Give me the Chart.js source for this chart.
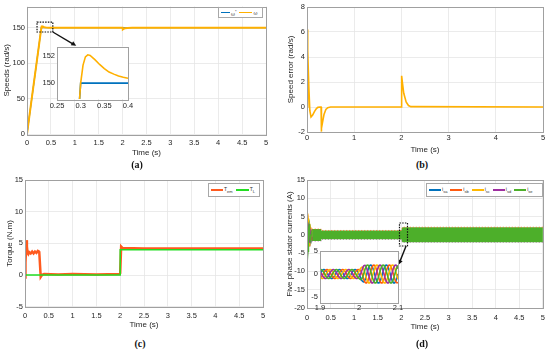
<!DOCTYPE html>
<html>
<head>
<meta charset="utf-8">
<script src="https://cdn.jsdelivr.net/npm/chart.js@4"></script>
<style>
  body { margin: 0; background: #fff; }
  #wrap { position: relative; width: 550px; height: 352px; overflow: hidden; background: #fff; font-family: "Liberation Sans", Arial, sans-serif; }
  #wrap canvas { position: absolute; }
  .cap { position: absolute; font: bold 10px "Liberation Serif", serif; color: #111; transform: translate(-50%, -50%); }
  .leg { position: absolute; background: #fff; border: 1px solid #a8a8a8; display: flex; align-items: center; font-size: 5px; color: #333; box-sizing: border-box; padding-left: 2px; }
  .leg .ln { display: inline-block; height: 1.5px; margin-right: 1px; }
  .leg .lt { margin-right: 3px; }
  .leg sub, .leg sup { font-size: 4px; }
</style>
</head>
<body>
<div id="wrap">
  <canvas id="ca" width="275" height="158" style="left:0;top:0"></canvas>
  <canvas id="caIn" width="100" height="72" style="left:38px;top:40px"></canvas>
  <canvas id="cb" width="275" height="155" style="left:275px;top:0"></canvas>
  <canvas id="cc" width="275" height="158" style="left:0;top:172px"></canvas>
  <canvas id="cd" width="275" height="160" style="left:275px;top:172px"></canvas>
  <canvas id="cdIn" width="108" height="72" style="left:300px;top:244px"></canvas>

  <div class="leg" style="left:218px;top:7px;width:45px;height:11px">
    <span class="ln" style="background:#0072BD;width:9px"></span><span class="lt">ω<sup>*</sup></span>
    <span class="ln" style="background:#FFB000;width:13px"></span><span class="lt">ω</span>
  </div>
  <div class="leg" style="left:208px;top:183px;width:52px;height:14px">
    <span class="ln" style="background:#FF5A1F;width:12px"></span><span class="lt">T<sub>em</sub></span>
    <span class="ln" style="background:#22DD22;width:13px"></span><span class="lt">T<sub>L</sub></span>
  </div>
  <div class="leg" style="left:426px;top:183px;width:117px;height:14px">
    <span class="ln" style="background:#0072BD;width:12px"></span><span class="lt">i<sub>sa</sub></span>
    <span class="ln" style="background:#FF5A10;width:12px"></span><span class="lt">i<sub>sb</sub></span>
    <span class="ln" style="background:#FFB800;width:12px"></span><span class="lt">i<sub>sc</sub></span>
    <span class="ln" style="background:#9E2FA0;width:12px"></span><span class="lt">i<sub>sd</sub></span>
    <span class="ln" style="background:#4DAF2A;width:12px"></span><span class="lt">i<sub>se</sub></span>
  </div>

  <div class="cap" style="left:137px;top:164px">(a)</div>
  <div class="cap" style="left:422px;top:164px">(b)</div>
  <div class="cap" style="left:140px;top:343px">(c)</div>
  <div class="cap" style="left:422px;top:343px">(d)</div>
</div>

<script>
// ---- (a) speeds ----
const speedRefT = [0, 0.3, 5];
const speedRef  = [0, 150, 150];
const speedT = [0, 0.1, 0.2, 0.3, 0.305, 0.31, 0.315, 0.32, 0.33, 0.34, 0.35, 0.36, 0.37, 0.38, 0.39, 0.4, 0.45, 0.5, 2.0, 2.005, 2.02, 2.05, 2.1, 2.2, 5];
const speed  = [0, 50.8, 100, 150, 151.3, 151.9, 152.05, 152.0, 151.7, 151.35, 151.05, 150.8, 150.65, 150.52, 150.43, 150.35, 150.12, 150.0, 150, 147.6, 148.3, 149.3, 149.8, 150, 150];
const speedXTicks = [0, 0.5, 1, 1.5, 2, 2.5, 3, 3.5, 4, 4.5, 5];
const speedYTicks = [0, 50, 100, 150];
const zoomAXTicks = [0.25, 0.3, 0.35, 0.4];
const zoomAYTicks = [150, 152];

// ---- (b) speed error ----
const errT = [0, 0.01, 0.02, 0.04, 0.06, 0.085, 0.12, 0.16, 0.2, 0.23, 0.28, 0.298, 0.302, 0.31, 0.33, 0.36, 0.4, 0.44, 0.5, 2.0, 2.005, 2.02, 2.05, 2.1, 2.15, 2.2, 5];
const err  = [0, 6.2, 4.5, 1.5, -0.3, -0.8, -0.65, -0.35, -0.12, -0.03, 0, 0, -1.97, -1.7, -1.2, -0.6, -0.2, -0.05, 0, 0, 2.5, 2.0, 1.1, 0.4, 0.12, 0.03, 0];
const errXTicks = [0, 1, 2, 3, 4, 5];
const errYTicks = [-2, 0, 2, 4, 6, 8];

// ---- (c) torque ----
const temT = [0, 0.01, 0.03, 0.04, 0.055, 0.07, 0.09, 0.12, 0.15, 0.18, 0.21, 0.24, 0.27, 0.295, 0.3, 0.33, 0.36, 0.4, 0.7, 1.0, 1.5, 1.99, 2.0, 2.02, 2.05, 2.5, 3, 4, 5];
const tem  = [-0.4, 2, 5.5, 4.5, 3.5, 3.3, 3.6, 3.4, 3.7, 3.4, 3.7, 3.5, 3.8, 3.7, 3.6, -0.3, 0.05, 0.15, 0.1, 0.15, 0.1, 0.15, 0.3, 4.5, 4.25, 4.2, 4.2, 4.2, 4.2];
const tlT = [0, 2.0, 2.0, 5];
const tl  = [0, 0, 4, 4];
const torqueXTicks = [0, 0.5, 1, 1.5, 2, 2.5, 3, 3.5, 4, 4.5, 5];
const torqueYTicks = [-5, 0, 5, 10, 15];

// ---- (d) stator currents ----
const trT = [0, 0.003, 0.008, 0.015, 0.022, 0.03, 0.038, 0.046, 0.054, 0.062, 0.07, 0.08, 0.09, 0.1];
const isaTr = [0, 13, 10, 4, -1, -3, -2.5, 0, 2, 2, 0, -1.8, -1.2, 0.8];
const isbTr = [0, 3, 5.5, 6, 4, 1, -1.5, -3, -2, 0, 2, 1.5, -0.5, -1.5];
const iscTr = [0, -1, 1, 3.5, 4.5, 3, 0.5, -2, -3, -2, 0.5, 1.8, 1.2, -0.5];
const isdTr = [0, -11.5, -10, -6, -2, 1, 2.5, 2, 0, -2, -2, 0, 1.5, 1.5];
const iseTr = [0, -3.5, -6.5, -7, -4.5, -1, 2, 3, 2.5, 0.5, -1.5, -1.8, 0, 1.2];
const bandT  = [0.1, 0.3, 0.3, 2.0, 2.02, 5];
const bandHi = [1.6, 1.6, 1.2, 1.2, 2.1, 2.1];
const bandLo = [-1.7, -1.7, -1.2, -1.2, -2.0, -2.0];
const curXTicks = [0, 0.5, 1, 1.5, 2, 2.5, 3, 3.5, 4, 4.5, 5];
const curYTicks = [-20, -15, -10, -5, 0, 5, 10, 15];

// zoom of (d), 1.9 .. 2.1 s
const zT = [1.9, 1.904, 1.908, 1.912, 1.916, 1.92, 1.924, 1.928, 1.932, 1.936, 1.94, 1.944, 1.948, 1.952, 1.956, 1.96, 1.964, 1.968, 1.972, 1.976, 1.98, 1.984, 1.988, 1.992, 1.996, 2.0, 2.004, 2.008, 2.012, 2.016, 2.02, 2.024, 2.028, 2.032, 2.036, 2.04, 2.044, 2.048, 2.052, 2.056, 2.06, 2.064, 2.068, 2.072, 2.076, 2.08, 2.084, 2.088, 2.092, 2.096, 2.1];
const zIsa = [0,.59,.95,.95,.59,0,-.59,-.95,-.95,-.59, 0,.59,.95,.95,.59,0,-.59,-.95,-.95,-.59, 0,.59,.95,.95,.59,0,-.77,-1.52,-1.76,-1.18, 0,1.18,1.9,1.9,1.18,0,-1.18,-1.9,-1.9,-1.18, 0,1.18,1.9,1.9,1.18,0,-1.18,-1.9,-1.9,-1.18, 0];
const zIsb = [-.95,-.59,0,.59,.95,.95,.59,0,-.59,-.95, -.95,-.59,0,.59,.95,.95,.59,0,-.59,-.95, -.95,-.59,0,.59,.95,.95,.77,0,-1.09,-1.9, -1.9,-1.18,0,1.18,1.9,1.9,1.18,0,-1.18,-1.9, -1.9,-1.18,0,1.18,1.9,1.9,1.18,0,-1.18,-1.9, -1.9];
const zIsc = [-.59,-.95,-.95,-.59,0,.59,.95,.95,.59,0, -.59,-.95,-.95,-.59,0,.59,.95,.95,.59,0, -.59,-.95,-.95,-.59,0,.59,1.24,1.52,1.09,0, -1.18,-1.9,-1.9,-1.18,0,1.18,1.9,1.9,1.18,0, -1.18,-1.9,-1.9,-1.18,0,1.18,1.9,1.9,1.18,0, -1.18];
const zIsd = [.59,0,-.59,-.95,-.95,-.59,0,.59,.95,.95, .59,0,-.59,-.95,-.95,-.59,0,.59,.95,.95, .59,0,-.59,-.95,-.95,-.59,0,.94,1.76,1.9, 1.18,0,-1.18,-1.9,-1.9,-1.18,0,1.18,1.9,1.9, 1.18,0,-1.18,-1.9,-1.9,-1.18,0,1.18,1.9,1.9, 1.18];
const zIse = [.95,.95,.59,0,-.59,-.95,-.95,-.59,0,.59, .95,.95,.59,0,-.59,-.95,-.95,-.59,0,.59, .95,.95,.59,0,-.59,-.95,-1.24,-.94,0,1.18, 1.9,1.9,1.18,0,-1.18,-1.9,-1.9,-1.18,0,1.18, 1.9,1.9,1.18,0,-1.18,-1.9,-1.9,-1.18,0,1.18, 1.9];
const zoomDXTicks = [1.9, 2, 2.1];
const zoomDYTicks = [-5, 0, 5];

const FONT = '"Liberation Sans", Arial, sans-serif';
const INK = '#262626';
const GRID = '#e6e6e6';
const COL = { blue: '#0072BD', amber: '#FFB000', tem: '#FF5A1F', tl: '#22DD22',
  sa: '#0072BD', sb: '#FF5A10', sc: '#FFB800', sd: '#9E2FA0', se: '#4DAF2A' };

const pts = (xs, ys) => xs.map((x, i) => ({ x: x, y: ys[i] }));

function line(label, xs, ys, color, width, order, extra) {
  return Object.assign({
    label: label, data: pts(xs, ys), borderColor: color, backgroundColor: color,
    borderWidth: width, pointRadius: 0, tension: 0, order: order, fill: false
  }, extra || {});
}

// box around the plot area (MATLAB "box on"), optional white fill for insets
const frame = {
  id: 'frame',
  beforeDraw(chart, args, o) {
    if (!o.fill) return;
    const a = chart.chartArea, ctx = chart.ctx;
    ctx.save(); ctx.fillStyle = o.fill;
    ctx.fillRect(a.left, a.top, a.right - a.left, a.bottom - a.top);
    ctx.restore();
  },
  afterDraw(chart, args, o) {
    const a = chart.chartArea, ctx = chart.ctx;
    ctx.save(); ctx.strokeStyle = o.color || '#a0a0a0'; ctx.lineWidth = 1;
    ctx.strokeRect(Math.round(a.left) + 0.5, Math.round(a.top) + 0.5,
      Math.round(a.right - a.left), Math.round(a.bottom - a.top));
    ctx.restore();
  }
};

// dotted zoom box + arrow, given in data coordinates
const marks = {
  id: 'marks',
  afterDatasetsDraw(chart, args, o) {
    if (!o.rect) return;
    const ctx = chart.ctx, sx = chart.scales.x, sy = chart.scales.y;
    const x0 = sx.getPixelForValue(o.rect[0]), x1 = sx.getPixelForValue(o.rect[1]);
    const y0 = sy.getPixelForValue(o.rect[2]), y1 = sy.getPixelForValue(o.rect[3]);
    ctx.save();
    ctx.strokeStyle = '#111'; ctx.lineWidth = 1.2; ctx.setLineDash([1.5, 1.2]);
    ctx.strokeRect(x0, y1, x1 - x0, y0 - y1);
    ctx.setLineDash([]);
    const ax = sx.getPixelForValue(o.arrow[0]), ay = sy.getPixelForValue(o.arrow[1]);
    const bx = sx.getPixelForValue(o.arrow[2]), by = sy.getPixelForValue(o.arrow[3]);
    const ang = Math.atan2(by - ay, bx - ax);
    ctx.lineWidth = 1.4;
    ctx.beginPath(); ctx.moveTo(ax, ay);
    ctx.lineTo(bx - 4 * Math.cos(ang), by - 4 * Math.sin(ang)); ctx.stroke();
    ctx.fillStyle = '#111';
    ctx.beginPath(); ctx.moveTo(bx, by);
    ctx.lineTo(bx - 5.5 * Math.cos(ang - 0.45), by - 5.5 * Math.sin(ang - 0.45));
    ctx.lineTo(bx - 5.5 * Math.cos(ang + 0.45), by - 5.5 * Math.sin(ang + 0.45));
    ctx.closePath(); ctx.fill();
    ctx.restore();
  }
};

function axis(min, max, ticks, o) {
  return {
    type: 'linear', min: min, max: max,
    afterBuildTicks: s => { s.ticks = ticks.map(v => ({ value: v })); },
    afterFit: s => { if (o.w !== undefined) s.width = o.w; if (o.h !== undefined) s.height = o.h; },
    ticks: { color: INK, font: { size: 7.5, family: FONT }, padding: o.pad, maxRotation: 0, autoSkip: false, callback: v => String(v) },
    grid: { display: o.grid !== false, color: GRID, lineWidth: 0.8, drawTicks: false },
    border: { display: false },
    title: { display: !!o.title, text: o.title, color: INK, font: { size: 8, family: FONT }, padding: { top: o.tpad || 0, bottom: 0 } }
  };
}

function make(id, datasets, xs, ys, padding, extra) {
  return new Chart(document.getElementById(id), {
    type: 'line',
    data: { datasets: datasets },
    options: {
      responsive: false, animation: false, events: [],
      layout: { padding: padding },
      scales: { x: xs, y: ys },
      plugins: Object.assign({ legend: { display: false }, tooltip: { enabled: false } }, extra || {})
    },
    plugins: [frame, marks]
  });
}

// (a)
make('ca', [
  line('ω*', speedRefT, speedRef, COL.blue, 1.2, 1),
  line('ω', speedT, speed, COL.amber, 2, 0)
],
  axis(0, 5, speedXTicks, { h: 24, pad: 4, title: 'Time (s)' }),
  axis(0, 180, speedYTicks, { w: 27, pad: 2, title: 'Speeds (rad/s)', tpad: 2.2 }),
  { top: 3, right: 9, left: 0, bottom: 0 },
  { frame: { color: '#a0a0a0' }, marks: { rect: [0.21, 0.54, 144, 158], arrow: [0.54, 144, 1.03, 124.5] } });

make('caIn', [
  line('ω*', speedRefT, speedRef, COL.blue, 1.6, 1),
  line('ω', speedT, speed, COL.amber, 1.6, 0)
],
  axis(0.25, 0.4, zoomAXTicks, { h: 13, pad: 2, grid: false }),
  axis(148.85, 152.65, zoomAYTicks, { w: 19, pad: 2, grid: false }),
  { top: 3, right: 10, left: 0, bottom: 0 },
  { frame: { color: '#a0a0a0', fill: '#fff' } });

// (b)
make('cb', [ line('Speed error', errT, err, COL.amber, 1.6, 0) ],
  axis(0, 5, errXTicks, { h: 23, pad: 1.5, title: 'Time (s)' }),
  axis(-2, 8, errYTicks, { w: 32, pad: 2, title: 'Speed error (rad/s)', tpad: 11 }),
  { top: 7, right: 7, left: 0, bottom: 0 },
  { frame: { color: '#a0a0a0' } });

// (c)
make('cc', [
  line('Tem', temT, tem, COL.tem, 2.5, 1),
  line('TL', tlT, tl, COL.tl, 1.5, 0)
],
  axis(0, 5, torqueXTicks, { h: 23.3, pad: 4.5, title: 'Time (s)' }),
  axis(-5, 15, torqueYTicks, { w: 25, pad: 2, title: 'Torque (N.m)', tpad: 5 }),
  { top: 8, right: 12, left: 0, bottom: 0 },
  { frame: { color: '#a0a0a0' } });

// (d)
const bandFill = [
  line('band hi', bandT, bandHi, COL.sb, 0.8, 6, { fill: '+1', backgroundColor: COL.se, borderDash: [1, 2] }),
  line('band lo', bandT, bandLo, COL.sd, 0.8, 7, { borderDash: [1, 2] })
];
make('cd', [
  line('isa', trT, isaTr, COL.sa, 1.2, 4),
  line('isb', trT, isbTr, COL.sb, 1.2, 3),
  line('isc', trT, iscTr, COL.sc, 1.2, 2),
  line('isd', trT, isdTr, COL.sd, 1.2, 1),
  line('ise', trT, iseTr, COL.se, 1.2, 0)
].concat(bandFill),
  axis(0, 5, curXTicks, { h: 24, pad: 5, title: 'Time (s)' }),
  axis(-20, 15, curYTicks, { w: 32, pad: 2, title: 'Five phase stator currents (A)', tpad: 10 }),
  { top: 8, right: 6, left: 0, bottom: 0 },
  { frame: { color: '#a0a0a0' }, marks: { rect: [1.96, 2.13, -3.05, 3.24], arrow: [2.1, -3.05, 1.94, -8.2] } });

make('cdIn', [
  line('isa', zT, zIsa, COL.sa, 1.6, 4, { tension: 0.35 }),
  line('isb', zT, zIsb, COL.sb, 1.6, 3, { tension: 0.35 }),
  line('isc', zT, zIsc, COL.sc, 1.6, 2, { tension: 0.35 }),
  line('isd', zT, zIsd, COL.sd, 1.6, 1, { tension: 0.35 }),
  line('ise', zT, zIse, COL.se, 1.6, 0, { tension: 0.35 })
],
  axis(1.9, 2.1, zoomDXTicks, { h: 13.5, pad: 1, grid: false }),
  axis(-6.3, 5.2, zoomDYTicks, { w: 20, pad: 2, grid: false }),
  { top: 4, right: 10, left: 0, bottom: 0 },
  { frame: { color: '#a0a0a0', fill: '#fff' } });
</script>
</body>
</html>
